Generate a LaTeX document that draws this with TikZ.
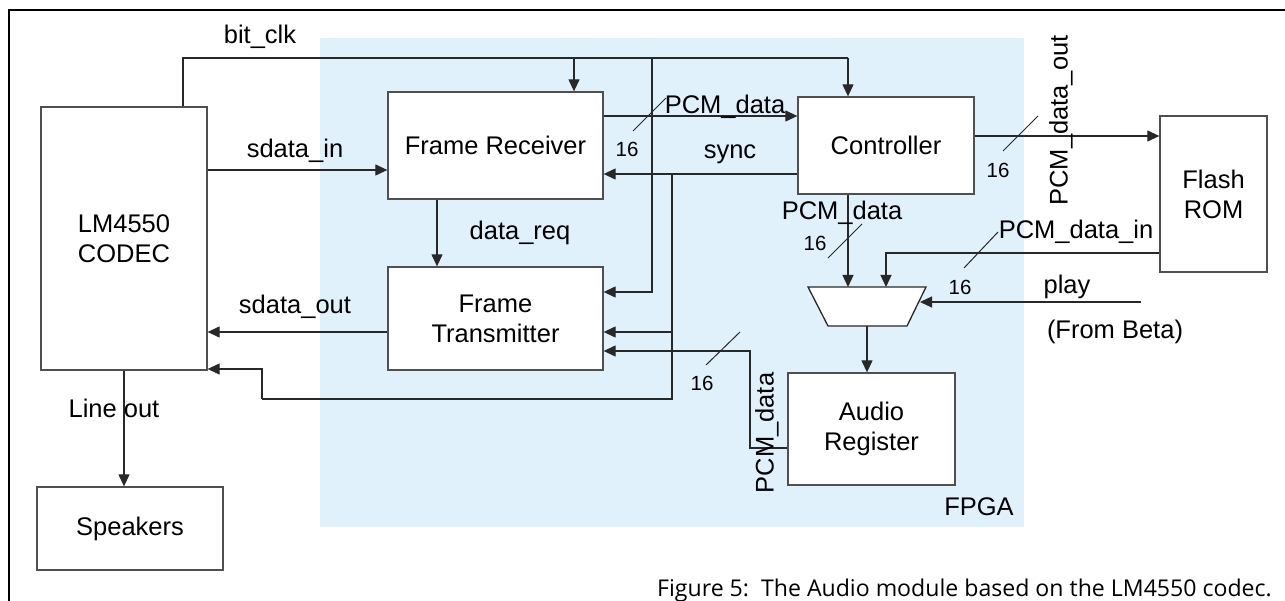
\documentclass[tikz,border=0pt]{standalone}
\usepackage{fontspec}
\setmainfont{Liberation Sans}
\newfontfamily\capfont{Open Sans}
\usetikzlibrary{arrows.meta}
\definecolor{fpgablue}{RGB}{224,241,252}
\definecolor{wirecol}{RGB}{40,40,40}
\definecolor{edgecol}{RGB}{80,80,80}
\begin{document}
\begin{tikzpicture}[x=1pt,y=-1pt,
  box/.style={draw=edgecol, line width=1.3pt, fill=white, inner sep=0pt,
    align=center, font=\fontsize{25.5}{30}\selectfont},
  wire/.style={draw=wirecol, line width=1.2pt},
  arr/.style={wire, -{Triangle[length=12pt,width=11pt]}},
  lbl/.style={inner sep=0pt, font=\fontsize{25.5}{30}\selectfont},
  num/.style={inner sep=0pt, font=\fontsize{20.5}{24}\selectfont},
  slash/.style={draw=wirecol, line width=1pt},
]
\useasboundingbox (0,0) rectangle (1285,601);

% FPGA area
\fill[fpgablue] (320,38) rectangle (1024,527);
\node[lbl] (fpga) at (979,507) {FPGA};

% frame of the figure
\draw[line width=2.5pt] (9,601) -- (9,10) -- (1285,10);

% blocks
\node[box, minimum width=166pt, minimum height=263pt] (codec) at (124,238.5) {LM4550\\CODEC};
\node[box, minimum width=186pt, minimum height=83pt] (spk) at (130,528.5) {Speakers};
\node[box, minimum width=215pt, minimum height=107pt] (fr) at (495.5,145.5) {Frame Receiver};
\node[box, minimum width=215pt, minimum height=103pt] (ft) at (495.5,318.5) {Frame\\Transmitter};
\node[box, minimum width=176pt, minimum height=97pt] (ctrl) at (886,145.5) {Controller};
\node[box, minimum width=107pt, minimum height=156pt] (rom) at (1213.5,194) {Flash\\ROM};
\node[box, minimum width=167pt, minimum height=112pt] (ar) at (871.5,429) {Audio\\Register};

% multiplexer (trapezoid, wide side on top)
\coordinate (muxTL) at (808,287);
\coordinate (muxTR) at (926,287);
\coordinate (muxBR) at (907,326);
\coordinate (muxBL) at (828,326);
\filldraw[draw=wirecol, fill=white, line width=1.3pt] (muxTL) -- (muxTR) -- (muxBR) -- (muxBL) -- cycle;
\coordinate (muxE) at (920,302);
\coordinate (muxS) at (867,326);

% routing points
\coordinate (clkA) at (183,58);
\coordinate (clkB) at (848,58);
\coordinate (clkFR) at (574,58);
\coordinate (clkFT) at (652,58);
\coordinate (syncX) at (672,174);
\coordinate (syncLow) at (672,399);
\coordinate (syncL) at (262,399);
\coordinate (pcmX) at (750,448);
\coordinate (romX) at (886,253);
\coordinate (playsrc) at (1141,302);

% bit_clk
\draw[wire] (codec.north -| clkA) -- (clkA) -- (clkB);
\draw[arr] (clkB) -- (ctrl.north -| clkB);
\draw[arr] (clkFR) -- (fr.north -| clkFR);
\draw[arr] (clkFT) |- (ft.east |- 0,292);
\node[lbl] (lclk) at (260,37) {bit\_clk};

% sdata_in
\draw[arr] (codec.east |- 0,170) -- (fr.west |- 0,170);
\node[lbl] (lsin) at (295,151) {sdata\_in};

% PCM_data receiver -> controller
\draw[arr] (fr.east |- 0,116) -- (ctrl.west |- 0,116);
\draw[slash] (633,131) -- (666,98);
\node[num] (n1) at (627,149) {16};
\node[lbl] (lpcm1) at (725,107) {PCM\_data};

% sync
\draw[arr] (ctrl.west |- syncX) -- (fr.east |- syncX);
\node[lbl] (lsync) at (730,154) {sync};
\draw[wire] (syncX) -- (syncLow) -- (syncL);
\draw[arr] (syncL) -- (syncL |- 0,369) -- (codec.east |- 0,369);
\draw[arr] (syncX |- 0,332) -- (ft.east |- 0,332);

% data_req
\draw[arr] (fr.south -| 437,0) -- (ft.north -| 437,0);
\node[lbl] (lreq) at (520,233) {data\_req};

% sdata_out
\draw[arr] (ft.west |- 0,332) -- (codec.east |- 0,332);
\node[lbl] (lsout) at (295,307) {sdata\_out};

% line out
\draw[arr] (codec.south) -- (spk.north -| codec.south);
\node[lbl] (lline) at (114,408) {Line out};

% PCM_data audio register -> transmitter
\draw[arr] (ar.west |- pcmX) -- (pcmX) |- (ft.east |- 0,351);
\draw[slash] (706,365) -- (740,332);
\node[num] (n2) at (702,383) {16};
\node[lbl, rotate=90] (lpcm4) at (767,433) {PCM\_data};

% PCM_data_out controller -> flash
\draw[arr] (ctrl.east |- 0,136) -- (rom.west |- 0,136);
\draw[slash] (1003,151) -- (1038,116);
\node[num] (n3) at (998,170) {16};
\node[lbl, rotate=90] (lpcmo) at (1061,120.5) {PCM\_data\_out};

% PCM_data controller -> mux
\draw[arr] (ctrl.south -| 848,0) -- (muxTL -| 848,0);
\draw[slash] (828,258) -- (862,224);
\node[num] (n4) at (815,243) {16};
\node[lbl] (lpcm2) at (842,213) {PCM\_data};

% PCM_data_in flash -> mux
\draw[arr] (rom.west |- romX) -- (romX) -- (muxTL -| romX);
\draw[slash] (964,268) -- (998,232);
\node[num] (n5) at (960,287) {16};
\node[lbl] (lpcmi) at (1076,232) {PCM\_data\_in};

% play select
\draw[arr] (playsrc) -- (muxE);
\node[lbl] (lplay) at (1067,287) {play};
\node[lbl] (lbeta) at (1115,332) {(From Beta)};

% mux -> audio register
\draw[arr] (muxS) -- (ar.north -| muxS);

% caption
\node[anchor=base west, inner sep=0pt, font=\capfont\fontsize{23.1}{26}\selectfont] (cap)
  at (657,596) {Figure 5:\ \ The Audio module based on the LM4550 codec.};
\end{tikzpicture}
\end{document}
